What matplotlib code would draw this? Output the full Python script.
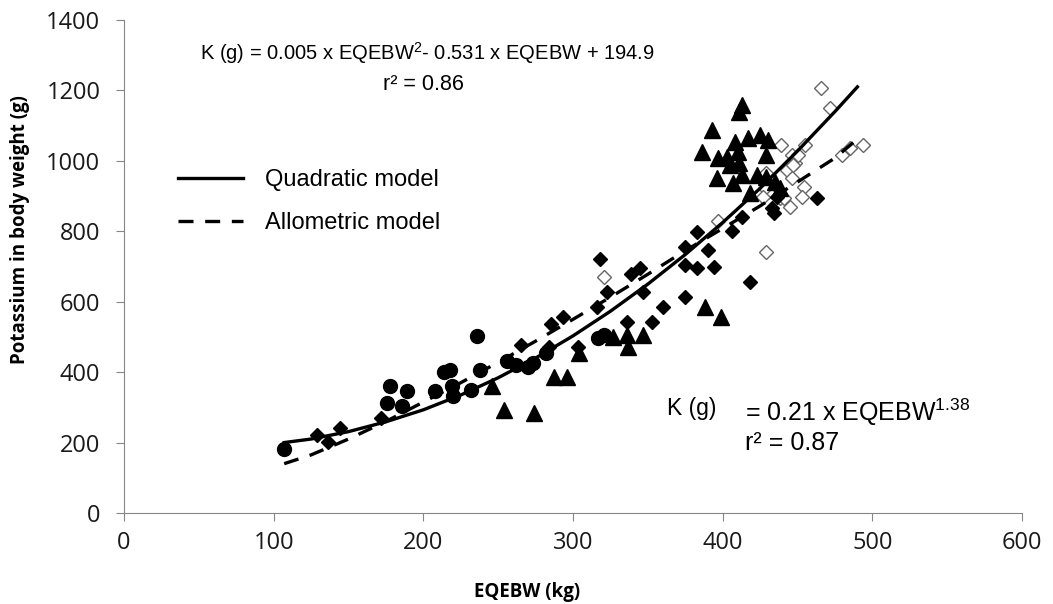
import matplotlib
matplotlib.use('Agg')
import matplotlib.pyplot as plt

plt.rcParams['mathtext.fontset'] = 'custom'
plt.rcParams['mathtext.rm'] = 'Liberation Sans'

# Measured groups (EQEBW kg, K g)
circle_x = [107, 176, 178, 186, 189, 208, 214, 218, 219, 220, 232, 236, 238,
            256, 262, 270, 273, 282, 317, 321]
circle_y = [182, 312, 362, 305, 347, 347, 400, 405, 360, 332, 348, 502, 405,
            432, 420, 415, 425, 455, 497, 505]

triangle_x = [246, 254, 274, 287, 296, 304, 327, 336, 337, 347, 388, 399,
              413, 411, 393, 386, 408, 417, 425, 430, 397, 403, 410, 405,
              411, 429, 396, 407, 413, 423, 429, 418, 435, 438]
triangle_y = [362, 293, 284, 386, 386, 455, 500, 506, 470, 506, 585, 557,
              1159, 1139, 1088, 1025, 1054, 1065, 1074, 1060, 1008, 1011,
              1025, 989, 994, 1017, 951, 937, 960, 960, 954, 909, 940, 923]

diamond_x = [129, 136, 144, 172, 265, 284, 285, 293, 303, 316, 318, 323, 336,
             339, 345, 347, 353, 360, 375, 375, 375, 383, 383, 390, 394, 406,
             413, 418, 433, 434, 436, 463]
diamond_y = [222, 202, 241, 270, 477, 472, 537, 557, 470, 585, 722, 627, 543,
             680, 696, 627, 543, 585, 614, 704, 756, 696, 798, 747, 698, 802,
             840, 656, 866, 852, 898, 895]

open_x = [321, 397, 429, 466, 472, 494, 485, 480, 455, 446, 448, 443, 446,
          454, 453, 445, 439, 438, 429, 430, 428, 427, 441, 447, 450]
open_y = [670, 830, 741, 1207, 1150, 1045, 1037, 1017, 1045, 1017, 994, 974,
          951, 926, 898, 869, 1045, 895, 966, 912, 923, 898, 895, 988, 1017]

# Fitted curves
fit_x = [107, 125, 150, 175, 200, 225, 250, 275, 300, 325, 350, 375, 400,
         425, 450, 475, 490]
quad_y = [200, 210, 231, 259, 293, 335, 384, 440, 503, 573, 650, 734, 825,
          922, 1028, 1140, 1210]
allo_y = [140, 165, 210, 260, 315, 370, 428, 488, 550, 613, 678, 745, 808,
          872, 940, 1008, 1062]

fig = plt.figure(figsize=(10.53, 6.04), dpi=100)
ax = fig.add_axes([0.1178, 0.1507, 0.8528, 0.8162])

ax.plot(circle_x, circle_y, 'o', color='black', markersize=10, zorder=3)
ax.plot(triangle_x, triangle_y, '^', color='black', markersize=11, zorder=3)
ax.plot(diamond_x, diamond_y, 'D', color='black', markersize=7.5, zorder=3)
ax.plot(open_x, open_y, 'D', markerfacecolor='white', markeredgecolor='#666666',
        markeredgewidth=1.0, markersize=7.5, linestyle='none', zorder=2)

quad, = ax.plot(fit_x, quad_y, '-', color='black', lw=2.4, zorder=4,
                label='Quadratic model')
allo, = ax.plot(fit_x, allo_y, '--', color='black', lw=2.4, zorder=4,
                dashes=(4.5, 3.5), label='Allometric model')

ax.set_xlim(0, 600)
ax.set_ylim(0, 1400)
ax.set_xticks(range(0, 601, 100))
ax.set_yticks(range(0, 1401, 200))
for side in ('top', 'right'):
    ax.spines[side].set_visible(False)
for side in ('left', 'bottom'):
    ax.spines[side].set_color('#868686')
ax.tick_params(direction='out', length=6, color='#868686', labelsize=17,
               labelcolor='#1a1a1a')
ax.tick_params(axis='y', pad=11)
ax.tick_params(axis='x', pad=7)
for lab in ax.get_xticklabels() + ax.get_yticklabels():
    lab.set_family('Open Sans')

ax.set_xlabel('EQEBW (kg)', fontsize=13.5, fontweight='bold', family='Open Sans')
ax.set_ylabel('Potassium in body weight (g)', fontsize=13.5, fontweight='bold',
              family='Open Sans')
ax.xaxis.set_label_coords(0.449, -0.14)
ax.yaxis.set_label_coords(-0.105, 0.574)

eq = dict(family='Liberation Sans', color='black')
ax.text(51, 1307, r'K (g) = 0.005 x EQEBW$\mathregular{^2}$- 0.531 x EQEBW + 194.9',
        ha='left', va='center', fontsize=14.5, **eq)
ax.text(200, 1216, 'r² = 0.86', ha='center', va='center', fontsize=15.5, **eq)
ax.text(363, 297, 'K (g)', ha='left', va='center', fontsize=16.5, **eq)
ax.text(415, 287, r'= 0.21 x EQEBW$\mathregular{^{1.38}}$', ha='left',
        va='center', fontsize=18, **eq)
ax.text(415, 199, 'r² = 0.87', ha='left', va='center', fontsize=18, **eq)

ax.legend(handles=[quad, allo], loc='upper left', bbox_to_anchor=(0.060, 0.698),
          frameon=False, borderpad=0, borderaxespad=0, handlelength=2.75,
          handletextpad=0.93, labelspacing=0.9,
          prop={'family': 'Liberation Sans', 'size': 17})

fig.savefig('out.png', dpi=100)
